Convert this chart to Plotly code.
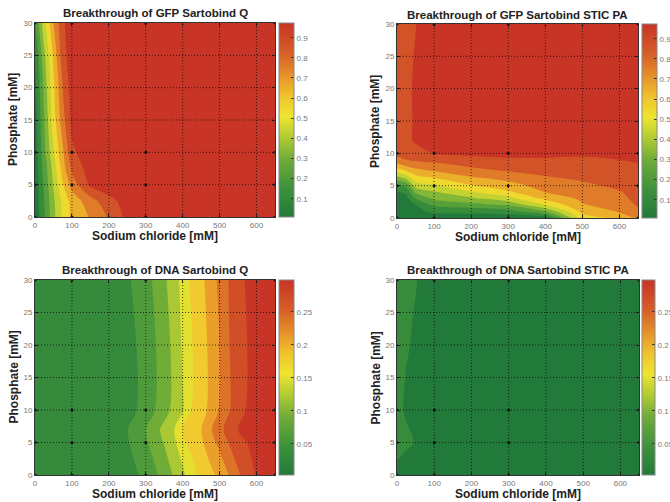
import plotly.graph_objects as go

# ---------------- data ----------------
nacl_ticks = [0, 100, 200, 300, 400, 500, 600]
phos_ticks = [0, 5, 10, 15, 20, 25, 30]
gfp_cbar_ticks = [0.1, 0.2, 0.3, 0.4, 0.5, 0.6, 0.7, 0.8, 0.9]
dna_cbar_ticks = [0.05, 0.1, 0.15, 0.2, 0.25]

# measured points
meas_nacl = [0, 100, 300, 650]
meas_phos = [0, 5, 10, 30]

# GFP Sartobind Q
gfp_q_nacl = [0, 25, 50, 75, 100, 150, 200, 250, 300, 650]
gfp_q_phos = [0, 2.5, 5, 7.5, 10, 15, 20, 25, 30]
gfp_q = [
    [0.02, 0.19, 0.37, 0.52, 0.62, 0.71, 0.81, 0.93, 0.96, 0.97],
    [0.03, 0.20, 0.38, 0.53, 0.64, 0.76, 0.87, 0.94, 0.96, 0.97],
    [0.03, 0.22, 0.41, 0.59, 0.74, 0.92, 0.96, 0.96, 0.97, 0.97],
    [0.04, 0.24, 0.44, 0.65, 0.82, 0.95, 0.96, 0.97, 0.97, 0.97],
    [0.04, 0.27, 0.49, 0.68, 0.88, 0.96, 0.97, 0.97, 0.97, 0.97],
    [0.05, 0.30, 0.55, 0.76, 0.93, 0.96, 0.97, 0.97, 0.97, 0.97],
    [0.07, 0.33, 0.58, 0.80, 0.95, 0.97, 0.97, 0.97, 0.97, 0.97],
    [0.10, 0.38, 0.62, 0.86, 0.96, 0.97, 0.97, 0.97, 0.97, 0.97],
    [0.20, 0.47, 0.70, 0.88, 0.96, 0.97, 0.97, 0.97, 0.97, 0.97],
]

# GFP Sartobind STIC PA
gfp_s_nacl = [0, 25, 50, 100, 200, 300, 400, 500, 600, 650]
gfp_s_phos = [0, 1, 2, 3, 4, 5, 6, 7, 8, 9, 10, 12, 15, 20, 25, 30]
gfp_s = [
    [0.02, 0.02, 0.04, 0.04, 0.03, 0.03, 0.05, 0.55, 0.62, 0.72],
    [0.03, 0.03, 0.07, 0.12, 0.13, 0.15, 0.30, 0.63, 0.71, 0.78],
    [0.04, 0.05, 0.10, 0.22, 0.26, 0.31, 0.50, 0.69, 0.75, 0.81],
    [0.06, 0.07, 0.20, 0.32, 0.38, 0.46, 0.62, 0.72, 0.77, 0.83],
    [0.09, 0.12, 0.32, 0.39, 0.49, 0.58, 0.70, 0.75, 0.79, 0.84],
    [0.20, 0.23, 0.44, 0.49, 0.59, 0.66, 0.74, 0.78, 0.82, 0.85],
    [0.32, 0.40, 0.54, 0.58, 0.67, 0.72, 0.78, 0.81, 0.84, 0.87],
    [0.50, 0.56, 0.64, 0.68, 0.75, 0.79, 0.82, 0.84, 0.86, 0.88],
    [0.64, 0.70, 0.73, 0.76, 0.81, 0.84, 0.86, 0.86, 0.88, 0.89],
    [0.77, 0.80, 0.82, 0.83, 0.87, 0.89, 0.89, 0.89, 0.90, 0.91],
    [0.83, 0.85, 0.87, 0.90, 0.92, 0.92, 0.92, 0.91, 0.92, 0.92],
    [0.87, 0.88, 0.91, 0.94, 0.95, 0.95, 0.95, 0.94, 0.94, 0.94],
    [0.88, 0.89, 0.905, 0.96, 0.96, 0.96, 0.96, 0.96, 0.96, 0.96],
    [0.88, 0.885, 0.91, 0.96, 0.96, 0.96, 0.96, 0.96, 0.96, 0.96],
    [0.87, 0.88, 0.905, 0.96, 0.96, 0.96, 0.96, 0.96, 0.96, 0.96],
    [0.86, 0.88, 0.898, 0.96, 0.96, 0.96, 0.96, 0.96, 0.96, 0.96],
]

# DNA Sartobind Q
dna_q_nacl = [0, 200, 250, 275, 300, 325, 350, 375, 400, 425, 450, 475,
              500, 525, 550, 575, 600, 625, 650]
dna_q_phos = [0, 7, 10, 30]
dna_q = [
    [0.012, 0.020, 0.026, 0.028, 0.037, 0.054, 0.073, 0.092, 0.112, 0.141,
     0.159, 0.172, 0.188, 0.211, 0.235, 0.257, 0.273, 0.282, 0.290],
    [0.012, 0.020, 0.029, 0.042, 0.059, 0.079, 0.099, 0.116, 0.151, 0.164,
     0.179, 0.206, 0.230, 0.253, 0.271, 0.276, 0.280, 0.285, 0.290],
    [0.012, 0.020, 0.027, 0.0297, 0.044, 0.0601, 0.078, 0.098, 0.118, 0.153,
     0.169, 0.187, 0.213, 0.237, 0.258, 0.273, 0.278, 0.284, 0.290],
    [0.012, 0.020, 0.027, 0.035, 0.050, 0.065, 0.085, 0.105, 0.130, 0.158,
     0.173, 0.193, 0.218, 0.241, 0.262, 0.273, 0.279, 0.284, 0.290],
]

# DNA Sartobind STIC PA
dna_s_nacl = [0, 25, 50, 75, 100, 650]
dna_s_phos = [0, 2.5, 5, 7.5, 10, 15, 20, 25, 30]
dna_s = [
    [0.020, 0.016, 0.014, 0.013, 0.012, 0.012],
    [0.031, 0.022, 0.018, 0.014, 0.012, 0.012],
    [0.045, 0.037, 0.028, 0.016, 0.013, 0.012],
    [0.044, 0.032, 0.022, 0.015, 0.013, 0.012],
    [0.042, 0.025, 0.018, 0.014, 0.012, 0.012],
    [0.044, 0.028, 0.020, 0.015, 0.013, 0.012],
    [0.045, 0.034, 0.024, 0.016, 0.013, 0.012],
    [0.045, 0.036, 0.028, 0.018, 0.014, 0.012],
    [0.045, 0.040, 0.032, 0.020, 0.015, 0.012],
]

# ---------------- style ----------------
W, H = 670, 502
FONT = "Arial, Liberation Sans, sans-serif"
cscale = [
    [0.0, "rgb(34,122,58)"],
    [0.15, "rgb(62,146,60)"],
    [0.3, "rgb(112,172,56)"],
    [0.42, "rgb(182,206,50)"],
    [0.52, "rgb(238,228,48)"],
    [0.62, "rgb(240,196,45)"],
    [0.72, "rgb(232,150,42)"],
    [0.84, "rgb(215,96,40)"],
    [1.0, "rgb(200,52,38)"],
]

# panel pixel boxes: (left, right, top, bottom)
panels = [
    dict(box=(35, 275, 23, 217), cb=(279, 15), x=gfp_q_nacl, y=gfp_q_phos, z=gfp_q,
         lv=(0.1, 0.9, 0.1), cr=(0.009, 0.973), ct=gfp_cbar_ticks,
         title="Breakthrough of GFP Sartobind Q", ty=13),
    dict(box=(397, 638, 24, 218), cb=(642, 15), x=gfp_s_nacl, y=gfp_s_phos, z=gfp_s,
         lv=(0.1, 0.9, 0.1), cr=(0.009, 0.973), ct=gfp_cbar_ticks,
         title="Breakthrough of GFP Sartobind STIC PA", ty=15),
    dict(box=(35, 275, 280, 475), cb=(279, 15), x=dna_q_nacl, y=dna_q_phos, z=dna_q,
         lv=(0.0, 0.27, 0.03), cr=(0.003, 0.298), ct=dna_cbar_ticks,
         title="Breakthrough of DNA Sartobind Q", ty=270),
    dict(box=(397, 639, 280, 475), cb=(642, 13), x=dna_s_nacl, y=dna_s_phos, z=dna_s,
         lv=(0.03, 0.27, 0.03), cr=(0.003, 0.298), ct=dna_cbar_ticks,
         title="Breakthrough of DNA Sartobind STIC PA", ty=270),
]

fig = go.Figure()
layout = dict(
    width=W, height=H, margin=dict(l=0, r=0, t=0, b=0, autoexpand=False),
    paper_bgcolor="white", plot_bgcolor="white", showlegend=False,
    font=dict(family=FONT),
)
annotations = []
shapes = []
grid_line = dict(color="rgba(10,10,10,0.75)", width=1, dash="1px,2px")

for i, p in enumerate(panels, start=1):
    l, r, t, b = p["box"]
    xa = "x" if i == 1 else f"x{i}"
    ya = "y" if i == 1 else f"y{i}"
    xkey = "xaxis" if i == 1 else f"xaxis{i}"
    ykey = "yaxis" if i == 1 else f"yaxis{i}"
    layout[xkey] = dict(
        domain=[l / W, r / W], anchor=ya, range=[0, 650],
        tickvals=nacl_ticks, ticks="inside", ticklen=3, tickcolor="#222",
        showline=True, mirror="ticks", linecolor="#333", linewidth=1,
        showgrid=False, zeroline=False, automargin=False,
        tickfont=dict(size=8, color="#777", family=FONT),
    )
    layout[ykey] = dict(
        domain=[1 - b / H, 1 - t / H], anchor=xa, range=[0, 30],
        tickvals=phos_ticks, ticks="inside", ticklen=3, tickcolor="#222",
        showline=True, mirror="ticks", linecolor="#333", linewidth=1,
        showgrid=False, zeroline=False, automargin=False,
        tickfont=dict(size=8, color="#777", family=FONT),
    )
    s, e, sz = p["lv"]
    fig.add_trace(go.Contour(
        x=p["x"], y=p["y"], z=p["z"], xaxis=xa, yaxis=ya,
        colorscale=cscale, showscale=False,
        contours=dict(start=s, end=e, size=sz, coloring="fill", showlines=False),
        line=dict(width=0), hoverinfo="skip",
    ))
    # continuous colorbar
    cbx, cbw = p["cb"]
    fig.add_trace(go.Scatter(
        x=[-1000, -1000], y=[-1000, -1000], xaxis=xa, yaxis=ya, mode="markers",
        marker=dict(size=1, color=list(p["cr"]), colorscale=cscale,
                    cmin=p["cr"][0], cmax=p["cr"][1], showscale=True,
                    colorbar=dict(
                        x=cbx / W, xanchor="left", xpad=0, ypad=0,
                        y=1 - (t + b) / 2 / H, yanchor="middle",
                        len=b - t, lenmode="pixels",
                        thickness=cbw, thicknessmode="pixels",
                        outlinewidth=1, outlinecolor="#888",
                        tickvals=p["ct"], ticks="inside", ticklen=3,
                        tickcolor="#333",
                        tickfont=dict(size=8, color="#777", family=FONT),
                    )),
        hoverinfo="skip",
    ))
    # measured points
    fig.add_trace(go.Scatter(
        x=[xv for xv in meas_nacl for _ in meas_phos],
        y=[yv for _ in meas_nacl for yv in meas_phos],
        xaxis=xa, yaxis=ya, mode="markers",
        marker=dict(size=3, color="#111"), hoverinfo="skip",
    ))
    # dotted grid on top of fill
    for v in nacl_ticks[1:]:
        shapes.append(dict(type="line", xref=xa, yref=f"{ya} domain",
                           x0=v, x1=v, y0=0, y1=1, layer="above", line=grid_line))
    for v in phos_ticks[1:-1]:
        shapes.append(dict(type="line", xref=f"{xa} domain", yref=ya,
                           x0=0, x1=1, y0=v, y1=v, layer="above", line=grid_line))
    # titles
    annotations.append(dict(text=f"<b>{p['title']}</b>", xref="paper", yref="paper",
                            x=(l + r) / 2 / W, y=1 - p["ty"] / H, showarrow=False,
                            xanchor="center", yanchor="middle",
                            font=dict(size=11.5, color="#222", family=FONT)))
    annotations.append(dict(text="<b>Sodium chloride [mM]</b>", xref="paper", yref="paper",
                            x=(l + r) / 2 / W, y=1 - (b + 19) / H, showarrow=False,
                            xanchor="center", yanchor="middle",
                            font=dict(size=12, color="#222", family=FONT)))
    annotations.append(dict(text="<b>Phosphate [mM]</b>", xref="paper", yref="paper",
                            x=(l - 22) / W, y=1 - (t + b) / 2 / H, showarrow=False,
                            textangle=-90, xanchor="center", yanchor="middle",
                            font=dict(size=12, color="#222", family=FONT)))

layout["annotations"] = annotations
layout["shapes"] = shapes
fig.update_layout(**layout)
fig.write_html("out.html", config={"displayModeBar": False},
               post_script="document.body.style.margin='0';document.body.style.overflow='hidden';")
